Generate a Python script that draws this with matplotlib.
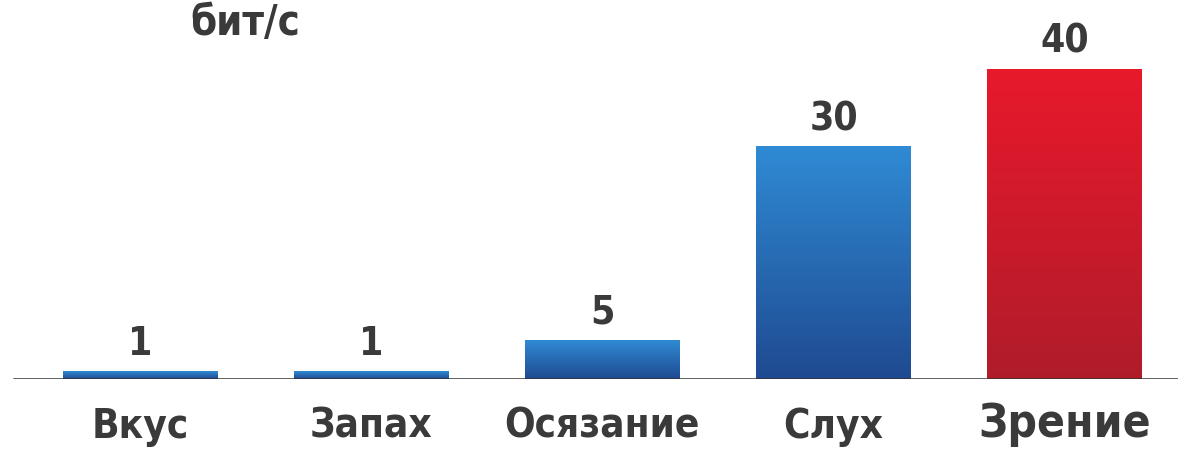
import numpy as np
import matplotlib.pyplot as plt
from matplotlib.colors import LinearSegmentedColormap

# Data
categories = ["Вкус", "Запах", "Осязание", "Слух", "Зрение"]
values = [1, 1, 5, 30, 40]
unit_label = "бит/с"

blue_cmap = LinearSegmentedColormap.from_list("blue", ["#1f4a91", "#2f8bd4"])
red_cmap = LinearSegmentedColormap.from_list("red", ["#b01c2a", "#e8192c"])

fig = plt.figure(figsize=(11.78, 4.56), dpi=100)
ax = fig.add_axes([0, 76 / 456, 1, 380 / 456])

x = np.arange(len(categories))
bars = ax.bar(x, values, width=0.67, color="none", zorder=2)

# gradient fills clipped to bars
grad = np.linspace(0, 1, 256).reshape(-1, 1)
for i, b in enumerate(bars):
    cmap = red_cmap if i == len(bars) - 1 else blue_cmap
    x0, y0 = b.get_x(), b.get_y()
    w, h = b.get_width(), b.get_height()
    im = ax.imshow(grad, cmap=cmap, aspect="auto", origin="lower",
                   extent=[x0, x0 + w, y0, y0 + h], zorder=2)
    im.set_clip_path(b)

ax.set_xlim(-0.606, 4.49)
ax.set_ylim(0, 49)
ax.axis("off")

# baseline
ax.axhline(0, xmin=0.012, xmax=1, color="#333333", lw=1.8, zorder=3)

txt_color = "#3a3a3a"
font = dict(family="DejaVu Sans", fontstretch="condensed", fontweight="bold",
            color=txt_color)

for i, v in enumerate(values):
    ax.text(x[i], v + 1.2, str(v), ha="center", va="bottom", fontsize=28,
            **font)

for i, c in enumerate(categories):
    size = 33 if c == "Зрение" else 29
    fig.text((x[i] + 0.606) / 5.096, 0.02, c, ha="center", va="bottom",
             fontsize=size, **font)

fig.text(245 / 1178, 0.995, unit_label, ha="center", va="top", fontsize=30,
         **font)

plt.savefig("out.png", dpi=100)
